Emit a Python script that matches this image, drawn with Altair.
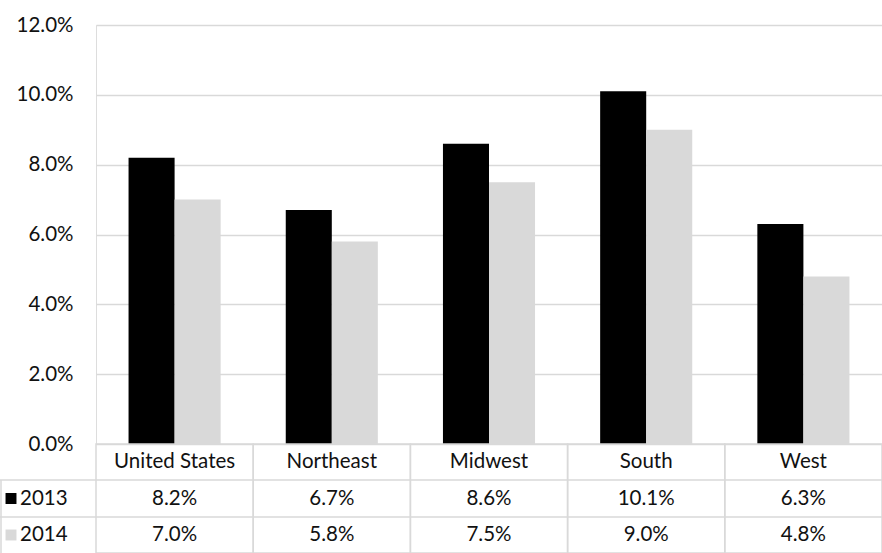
import altair as alt
import pandas as pd

categories = ["United States", "Northeast", "Midwest", "South", "West"]
years = ["2013", "2014"]
v2013 = [8.2, 6.7, 8.6, 10.1, 6.3]
v2014 = [7.0, 5.8, 7.5, 9.0, 4.8]
y_ticks = [0, 0.02, 0.04, 0.06, 0.08, 0.10, 0.12]

rows = []
for yr, vals in zip(years, [v2013, v2014]):
    for c, v in zip(categories, vals):
        rows.append({"cat": c, "year": yr, "value": v / 100, "label": f"{v:.1f}%"})
df = pd.DataFrame(rows)

FONT = "Lato"
FS = 20.5
TXT = "#111111"
LINE = "#d9d9d9"
W, H = 786, 419

xscale = alt.Scale(paddingInner=0, paddingOuter=0)
xenc = alt.X("cat:N", sort=categories, axis=None, scale=xscale)
colscale = alt.Scale(domain=years, range=["#000000", "#d9d9d9"])

base = alt.Chart(df)

bars = base.mark_bar().encode(
    x=xenc,
    xOffset=alt.XOffset("year:N", scale=alt.Scale(paddingInner=0, paddingOuter=0.707)),
    y=alt.Y("value:Q", scale=alt.Scale(domain=[0, 0.12]),
            axis=alt.Axis(format=".1%", values=y_ticks, title=None, ticks=False,
                          domain=False, labelPadding=23, grid=True, gridColor=LINE,
                          gridWidth=1.5, labelFont=FONT, labelFontSize=FS,
                          labelColor=TXT)),
    color=alt.Color("year:N", scale=colscale, legend=None),
)

header = base.transform_filter(alt.datum.year == "2013").mark_text(
    font=FONT, fontSize=FS, color=TXT, baseline="middle"
).encode(x=xenc, y=alt.value(437), text="cat:N")

row1 = base.transform_filter(alt.datum.year == "2013").mark_text(
    font=FONT, fontSize=FS, color=TXT, baseline="middle"
).encode(x=xenc, y=alt.value(473.5), text="label:N")

row2 = base.transform_filter(alt.datum.year == "2014").mark_text(
    font=FONT, fontSize=FS, color=TXT, baseline="middle"
).encode(x=xenc, y=alt.value(510), text="label:N")

legend_df = pd.DataFrame({"year": years, "ypos": [473.5, 510]})
leg_base = alt.Chart(legend_df)
leg_sq = leg_base.mark_point(shape="square", filled=True, size=120, opacity=1).encode(
    x=alt.value(-85), y=alt.Y("ypos:Q", scale=None),
    color=alt.Color("year:N", scale=colscale, legend=None),
)
leg_txt = leg_base.mark_text(font=FONT, fontSize=FS, color=TXT, align="left",
                             baseline="middle").encode(
    x=alt.value(-76), y=alt.Y("ypos:Q", scale=None), text="year:N")

# data-table grid: one outlined cell column per category
cells = base.transform_filter(alt.datum.year == "2013").mark_rect(
    filled=False, stroke=LINE, strokeWidth=1.5
).encode(x=xenc, y=alt.value(419), y2=alt.value(528))

lline = leg_base.transform_filter(alt.datum.year == "2013").mark_rule(
    color=LINE, strokeWidth=1.5).encode(
    x=alt.value(-95), y=alt.value(455), y2=alt.value(528))

hl1 = leg_base.transform_filter(alt.datum.year == "2013").mark_rule(
    color=LINE, strokeWidth=1.5).encode(x=alt.value(-96), x2=alt.value(786), y=alt.value(455))
hl2 = leg_base.transform_filter(alt.datum.year == "2014").mark_rule(
    color=LINE, strokeWidth=1.5).encode(x=alt.value(-96), x2=alt.value(786), y=alt.value(492))

chart = alt.layer(
    bars, cells, lline, hl1, hl2, header, row1, row2, leg_sq, leg_txt
).properties(
    width=W, height=H,
    autosize=alt.AutoSizeParams(type="none"),
    padding={"left": 96, "top": 25, "right": 0, "bottom": 109},
).configure_view(stroke=None).configure(background="white")

chart.save("out.html", embed_options={"renderer": "svg", "actions": False})
